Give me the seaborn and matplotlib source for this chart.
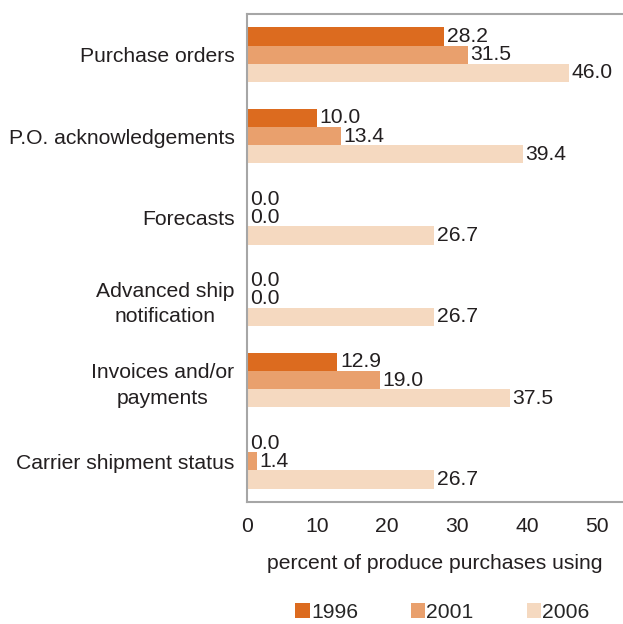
import pandas as pd
import seaborn as sns
import matplotlib.pyplot as plt

categories = ["Purchase orders", "P.O. acknowledgements", "Forecasts",
              "Advanced ship\nnotification", "Invoices and/or\npayments",
              "Carrier shipment status"]
years = ["1996", "2001", "2006"]
v1996 = [28.2, 10.0, 0.0, 0.0, 12.9, 0.0]
v2001 = [31.5, 13.4, 0.0, 0.0, 19.0, 1.4]
v2006 = [46.0, 39.4, 26.7, 26.7, 37.5, 26.7]
colors = ["#DC6B1F", "#E9A06D", "#F5D9C0"]

rows = []
for yr, vals in zip(years, [v1996, v2001, v2006]):
    for c, v in zip(categories, vals):
        rows.append({"category": c, "year": yr, "value": v})
df = pd.DataFrame(rows)

sns.set_style("white")
plt.rcParams["font.family"] = ["Liberation Sans", "DejaVu Sans"]
fs = 15.2

fig = plt.figure(figsize=(6.23, 6.24), dpi=100)
ax = fig.add_axes([0.3965, 0.1955, 0.6035, 0.782])

sns.barplot(data=df, x="value", y="category", hue="year", orient="h",
            palette=colors, saturation=1, width=0.67, ax=ax, legend=True,
            errorbar=None, linewidth=0)

for cont in ax.containers:
    ax.bar_label(cont, fmt="%.1f", padding=2, fontsize=fs, color="#231F20")

ax.set_xlim(0, 53.7)
ax.set_ylim(5.5, -0.5)
ax.set_xticks([0, 10, 20, 30, 40, 50])
ax.tick_params(axis="x", labelsize=fs, pad=11, length=0, colors="#231F20")
ax.tick_params(axis="y", labelsize=fs, pad=9, length=0, colors="#231F20")
for t in ax.get_yticklabels():
    t.set_multialignment("center")
    t.set_linespacing(1.45)
ax.set_ylabel("")
ax.set_xlabel("percent of produce purchases using", fontsize=fs,
              color="#231F20", labelpad=13)

for side in ["left", "top", "bottom"]:
    ax.spines[side].set_color("#A6A6A6")
    ax.spines[side].set_linewidth(1.5)
ax.spines["right"].set_visible(False)

ax.legend_.remove()
handles, labels = ax.get_legend_handles_labels()
fig.legend(handles, labels, loc="center", bbox_to_anchor=(0.71, 0.018),
           ncol=3, frameon=False, fontsize=fs, handlelength=0.7,
           handleheight=0.7, handletextpad=0.05, columnspacing=2.5)

fig.savefig("out.png", dpi=100)
